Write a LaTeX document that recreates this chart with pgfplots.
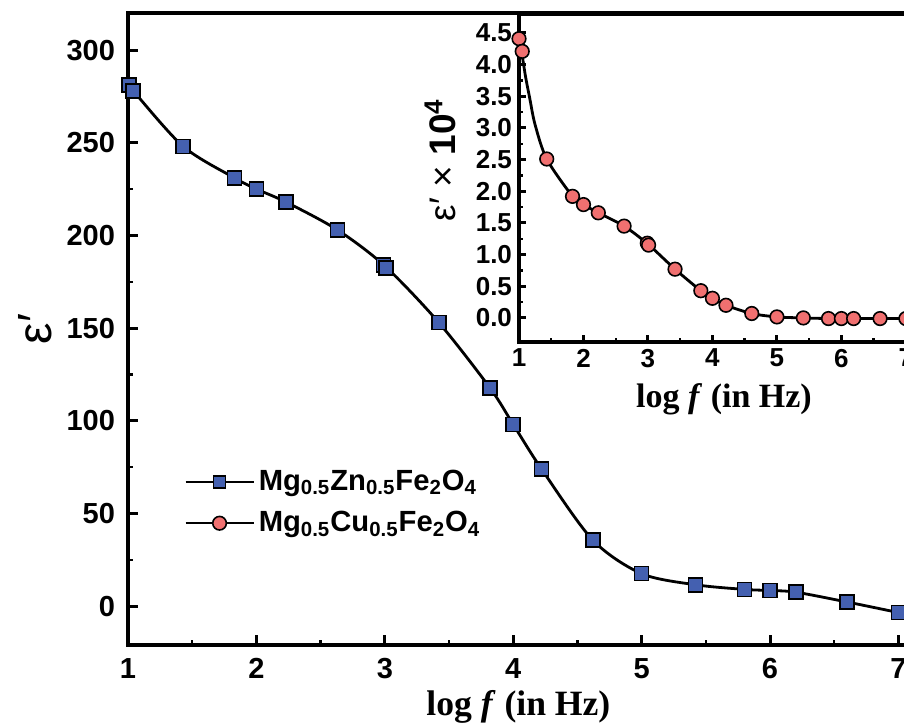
\documentclass[border=0pt]{standalone}
\usepackage{pgfplots}
\pgfplotsset{compat=1.18}
\usepackage{fontspec}
\setmainfont{Liberation Sans}
\newfontfamily\timesfont{Liberation Serif}
\definecolor{sqblue}{RGB}{68,96,176}
\definecolor{cired}{RGB}{240,112,112}
\pgfplotsset{
  common/.style={
    scale only axis,
    tick align=inside, tick pos=left,
    minor x tick num=1, minor y tick num=1,
    axis line style={line width=2pt},
    major tick style={line width=1.5pt, black},
    minor tick style={line width=1.2pt, black},
    /pgf/number format/assume math mode=true,
  },
  znline/.style={black, line width=1.4pt, smooth, no markers},
  znmark/.style={only marks, mark=square*, mark size=3.5pt, mark options={fill=sqblue, draw=black, line width=0.8pt}},
  culine/.style={black, line width=1.4pt, smooth, no markers},
  cumark/.style={only marks, mark=*, mark size=3.4pt, mark options={fill=cired, draw=black, line width=0.8pt}},
}
\begin{document}
\begin{tikzpicture}
\begin{axis}[common,
  at={(64pt,41pt)}, anchor=south west,
  width=390.35pt, height=316pt,
  xmin=1, xmax=7.08, ymin=-21, ymax=320,
  xtick={1,2,3,4,5,6,7}, ytick={0,50,100,150,200,250,300},
  major tick length=5pt, minor tick length=2.5pt,
  ticklabel style={font=\fontsize{14.5}{17}\selectfont\bfseries},
  xticklabel style={yshift=-3pt},
  yticklabel style={xshift=-3pt},
  xlabel={\timesfont\bfseries log \textit{f} (in Hz)},
  xlabel style={at={(rel axis cs:0.5,-0.1123)}, anchor=base, font=\fontsize{17.8}{20}\selectfont},
  ylabel={ε′},
  ylabel style={at={(rel axis cs:-0.1191,0.5)}, anchor=center, rotate=0, font=\fontsize{24}{28}\selectfont},
  legend cell align=left,
  legend style={draw=none, fill=none, at={(rel axis cs:0.064,0.29)}, anchor=north west,
    font=\fontsize{14.6}{17}\selectfont\bfseries, row sep=5pt},
  legend image code/.code={\draw[mark repeat=2,mark phase=2,#1] plot coordinates {(0pt,0pt) (17pt,0pt) (34pt,0pt)};},
]
\addplot[znline, forget plot] coordinates {
(1.0,281) (1.04,278) (1.43,248) (1.83,231) (2.0,225) (2.23,218) (2.63,203)
(3.0,183.5) (3.42,153) (3.82,117.6) (4.0,98) (4.22,74) (4.62,35.6) (5.0,17.5)
(5.42,11.5) (5.8,9) (6.0,8.4) (6.2,7.5) (6.6,2.2) (7.0,-3.5)};
\addplot[znmark, forget plot] coordinates {
(1.01,281) (1.04,278) (1.43,248) (1.83,231) (2.0,225) (2.23,218) (2.63,203)
(2.99,184) (3.01,182.5) (3.42,153) (3.82,117.6) (4.0,98) (4.22,74) (4.62,35.6) (5.0,17.5)
(5.42,11.5) (5.8,9) (6.0,8.4) (6.2,7.5) (6.6,2.2) (7.0,-3.5)};
\addlegendimage{black, line width=1.2pt, mark=square*, mark size=3pt, mark options={fill=sqblue, draw=black, line width=0.8pt}}
\addlegendentry{Mg\textsubscript{0.5}Zn\textsubscript{0.5}Fe\textsubscript{2}O\textsubscript{4}}
\addlegendimage{black, line width=1.2pt, mark=*, mark size=3.4pt, mark options={fill=cired, draw=black, line width=0.8pt}}
\addlegendentry{Mg\textsubscript{0.5}Cu\textsubscript{0.5}Fe\textsubscript{2}O\textsubscript{4}}
\end{axis}

\begin{axis}[common,
  at={(259.5pt,192.5pt)}, anchor=south west,
  width=196pt, height=164pt,
  xmin=1, xmax=7.08, ymin=-0.38, ymax=4.8,
  axis background/.style={fill=white},
  xtick={1,2,3,4,5,6,7}, ytick={0,0.5,1,1.5,2,2.5,3,3.5,4,4.5},
  major tick length=3.5pt, minor tick length=2pt,
  ticklabel style={font=\fontsize{13}{15}\selectfont\bfseries},
  yticklabel style={/pgf/number format/.cd, fixed, fixed zerofill, precision=1},
  xlabel={\timesfont\bfseries log \textit{f} (in Hz)},
  xlabel style={at={(rel axis cs:0.523,-0.201)}, anchor=base, font=\fontsize{17}{19}\selectfont},
  ylabel={ε′ × \textbf{10\textsuperscript{4}}},
  ylabel style={at={(rel axis cs:-0.2015,0.555)}, anchor=center, font=\fontsize{18.5}{21}\selectfont},
]
\addplot[culine] coordinates {
(1.03,4.28) (1.1,3.82) (1.17,3.45) (1.25,3.05) (1.43,2.51) (1.83,1.92) (2.0,1.79) (2.23,1.66) (2.63,1.45)
(3.0,1.165) (3.42,0.77) (3.82,0.43) (4.0,0.31) (4.21,0.2) (4.61,0.07) (5.0,0.016)
(5.41,0) (5.8,-0.01) (6.0,-0.01) (6.19,-0.01) (6.6,-0.01) (7.0,-0.01)};
\addplot[cumark] coordinates {
(1.0,4.41) (1.05,4.21) (1.43,2.51) (1.83,1.92) (2.0,1.79) (2.23,1.66) (2.63,1.45)
(2.99,1.18) (3.01,1.15) (3.42,0.77) (3.82,0.43) (4.0,0.31) (4.21,0.20) (4.61,0.07) (5.0,0.016)
(5.41,0.0) (5.8,-0.01) (6.0,-0.01) (6.19,-0.01) (6.6,-0.01) (7.0,-0.01)};
\end{axis}
\pgfresetboundingbox
\path[use as bounding box] (0,0) rectangle (452pt,363.5pt);
\end{tikzpicture}
\end{document}
